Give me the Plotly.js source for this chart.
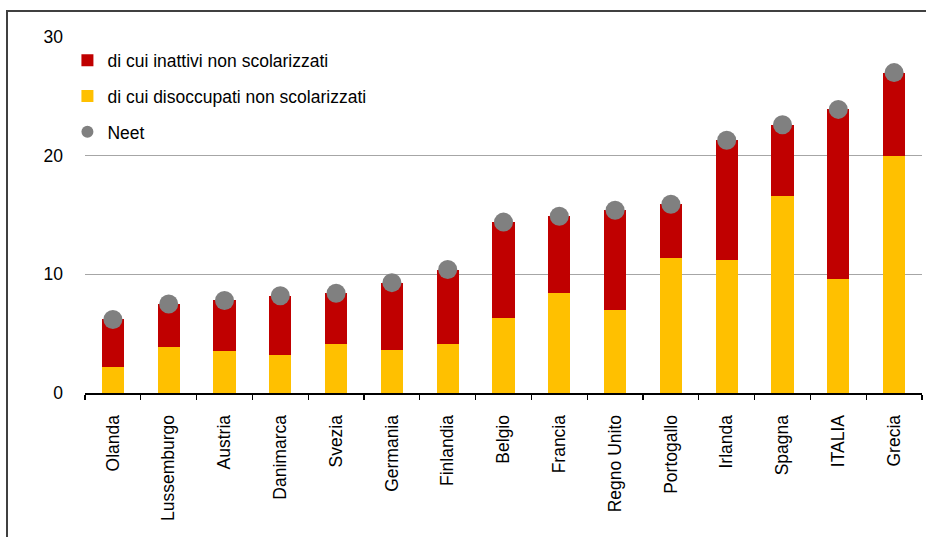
<!DOCTYPE html>
<html>
<head>
<meta charset="utf-8">
<script src="https://cdn.plot.ly/plotly-3.0.1.min.js"></script>
<style>
html,body{margin:0;padding:0;background:#fff;overflow:hidden;}
#chart{width:926px;height:537px;position:relative;}
#frame{position:absolute;left:6px;top:10px;width:940px;height:560px;border-top:2px solid #404040;border-left:2px solid #404040;pointer-events:none;}
</style>
</head>
<body>
<div id="chart"></div>
<div id="frame"></div>
<script>
const categories = ["Olanda","Lussemburgo","Austria","Danimarca","Svezia","Germania","Finlandia","Belgio","Francia","Regno Unito","Portogallo","Irlanda","Spagna","ITALIA","Grecia"];
const disoccupati = [2.2, 3.9, 3.5, 3.2, 4.1, 3.6, 4.1, 6.3, 8.4, 7.0, 11.4, 11.2, 16.6, 9.6, 20.0];
const inattivi = [4.0, 3.6, 4.3, 5.0, 4.3, 5.7, 6.3, 8.1, 6.5, 8.4, 4.5, 10.1, 6.0, 14.3, 7.0];
const neet = [6.2, 7.5, 7.8, 8.2, 8.4, 9.3, 10.4, 14.4, 14.9, 15.4, 15.9, 21.3, 22.6, 23.9, 27.0];
const yTicks = [0, 10, 20, 30];

const FONT = "Liberation Sans, Arial, sans-serif";
const xRange = [-0.5, categories.length - 0.5];
const boundaries = categories.map((c, i) => i - 0.5).concat([categories.length - 0.5]);

const traces = [
  {type: "bar", name: "di cui disoccupati non scolarizzati", x: categories, y: disoccupati,
   marker: {color: "#FFC000"}, legendgroup: "b", legendrank: 2, hoverinfo: "y"},
  {type: "bar", name: "di cui inattivi non scolarizzati", x: categories, y: inattivi,
   marker: {color: "#C00000"}, legendgroup: "a", legendrank: 1, hoverinfo: "y"},
  {type: "scatter", mode: "markers", name: "Neet", x: categories, y: neet,
   marker: {color: "#808080", size: 19}, legendgroup: "c", legendrank: 3, cliponaxis: false, hoverinfo: "y"}
];

const layout = {
  width: 926, height: 537,
  margin: {l: 85, r: 4, t: 37, b: 144},
  paper_bgcolor: "#ffffff", plot_bgcolor: "#ffffff",
  font: {family: FONT, size: 17.5, color: "#000"},
  barmode: "stack",
  bargap: 0.6,
  showlegend: true,
  legend: {x: -0.021, y: 0.985, xanchor: "left", yanchor: "top", bgcolor: "rgba(0,0,0,0)",
           traceorder: "grouped", tracegroupgap: 10, font: {family: FONT, size: 17.5},
           itemsizing: "constant", itemwidth: 30},
  xaxis: {type: "category", range: xRange, tickson: "boundaries", ticks: "outside", ticklen: 5, tickwidth: 1.2,
          tickcolor: "#000", showline: true, linecolor: "#000", linewidth: 2,
          tickangle: -90, tickfont: {family: FONT, size: 17.5}, ticklabelstandoff: 13,
          showgrid: false, zeroline: false, fixedrange: true},
  xaxis2: {type: "linear", overlaying: "x", anchor: "y", range: xRange,
           tickmode: "array", tickvals: boundaries, ticks: "inside", ticklen: 6, tickwidth: 1.2,
           tickcolor: "#000", showticklabels: false, showline: false, showgrid: false, zeroline: false},
  yaxis: {range: [0, 30], tickmode: "array", tickvals: yTicks, ticks: "", showline: false,
          showgrid: true, gridcolor: "#a6a6a6", gridwidth: 1.3, zeroline: false,
          tickfont: {family: FONT, size: 17.5}, ticklabelstandoff: 21, fixedrange: true}
};

Plotly.newPlot("chart", traces, layout, {displayModeBar: false, staticPlot: true});
</script>
</body>
</html>
